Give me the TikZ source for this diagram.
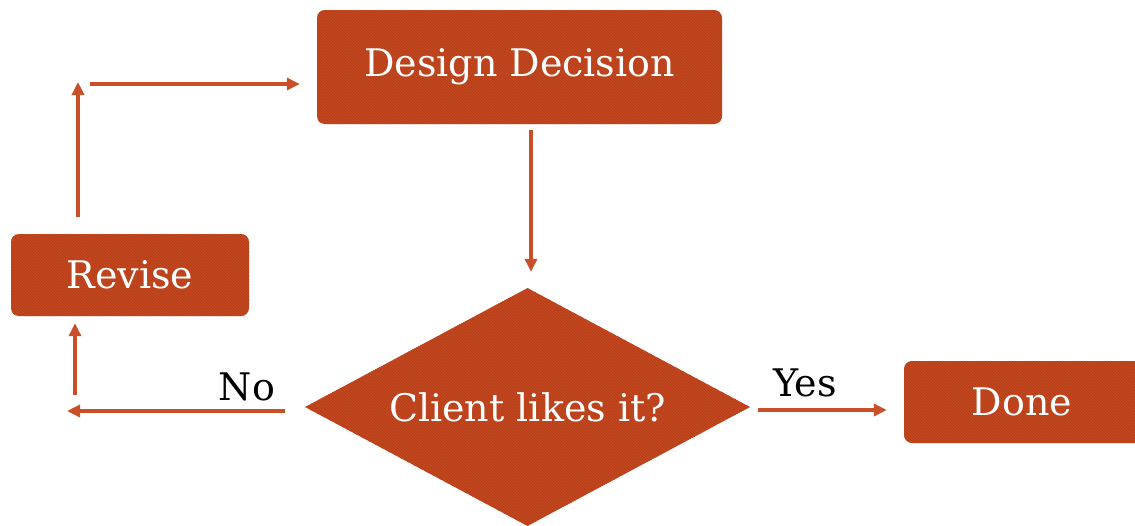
\documentclass[tikz,border=0pt]{standalone}
\usepackage{fontspec}
\setmainfont{DejaVu Serif}
\usetikzlibrary{shapes.geometric,arrows.meta,patterns,calc}
\definecolor{rust}{HTML}{C4471F}
\definecolor{rustdark}{HTML}{B03D18}
\definecolor{arrowrust}{HTML}{C94F28}
\begin{document}
\begin{tikzpicture}[x=1pt,y=-1pt,
  shapefill/.style={draw=none, fill=rust, text=white, inner sep=0pt,
    font=\fontsize{38}{40}\selectfont,
    postaction={pattern=north west lines, pattern color=rustdark}},
  flowbox/.style={shapefill, rectangle, rounded corners=8pt},
  decision/.style={shapefill, diamond, aspect=1.87,
    minimum width=445pt, minimum height=238pt},
  arr/.style={draw=arrowrust, line width=3.6pt,
    -{Triangle[length=13pt,width=12pt]}},
  lab/.style={text=black, inner sep=0pt, font=\fontsize{38}{40}\selectfont}
]
\useasboundingbox (0,0) rectangle (1135,525);
\clip (0,0) rectangle (1135,525);

% process boxes and decision
\node[flowbox, minimum width=405pt, minimum height=114pt] (design) at (519.5,67) {Design Decision};
\node[flowbox, minimum width=238pt, minimum height=82pt] (revise) at (130,275) {Revise};
\node[flowbox, minimum width=246pt, minimum height=82pt] (done) at (1027,402) {\hspace*{-10pt}Done};
\node[decision] (dia) at (527.5,407) {Client likes it?};

% branch labels
\node[lab] (no) at (247,387) {No};
\node[lab] (yes) at (805,383) {Yes};

% corners of the revision loop
\coordinate (noTip) at (67,411);
\coordinate (upStart) at (75,395);
\coordinate (topTip) at (78,82);
\coordinate (topStart) at (90,84);

% connectors
\draw[arr] ($(design.south)+(11.5,6)$) -- ($(dia.north)+(3.5,-16)$);
\draw[arr] ($(dia.west)+(-20,4)$) -- (noTip);
\draw[arr] (upStart) -- ($(revise.south)+(-55,7)$);
\draw[arr] ($(revise.north)+(-52,-17)$) -- (topTip);
\draw[arr] (topStart) -- ($(design.west)+(-17,17)$);
\draw[arr] ($(dia.east)+(8,3)$) -- ($(done.west)+(-17,8)$);
\end{tikzpicture}
\end{document}
